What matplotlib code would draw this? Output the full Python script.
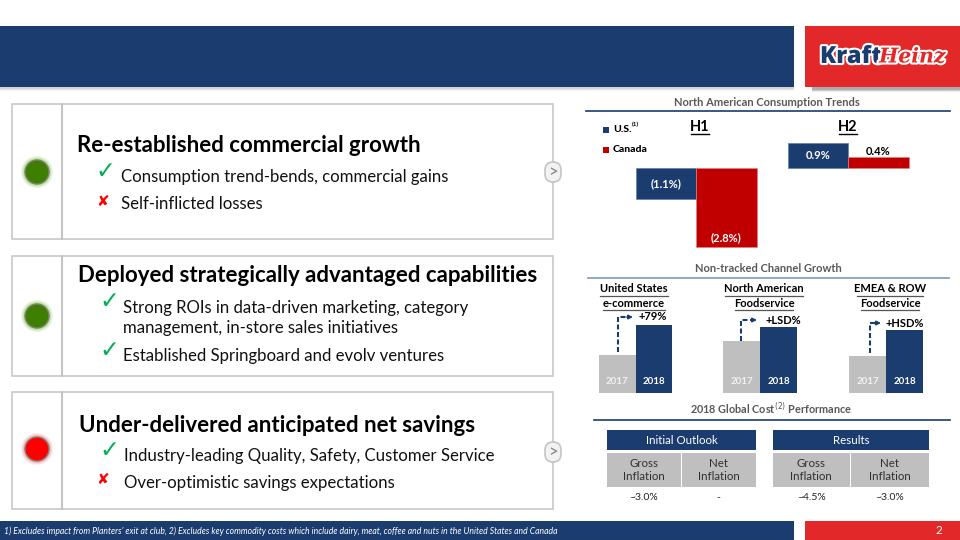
import matplotlib
matplotlib.use("Agg")
import matplotlib.pyplot as plt
import matplotlib.patheffects as pe
from matplotlib.patches import Rectangle, Circle, FancyBboxPatch

NAVY = "#1a3c6e"
RED = "#e22828"
DARKRED = "#c00000"
GREY = "#bfbfbf"
FONT = "Lato"

# ---- data ----
trend_periods = ["H1", "H2"]
us_trend = [-1.1, 0.9]
canada_trend = [-2.8, 0.4]
trend_labels_us = ["(1.1%)", "0.9%"]
trend_labels_ca = ["(2.8%)", "0.4%"]

channel_years = ["2017", "2018"]
channel_names = [["United States", "e-commerce"], ["North American", "Foodservice"], ["EMEA & ROW", "Foodservice"]]
channel_growth = ["+79%", "+LSD%", "+HSD%"]
channel_2017 = [100, 137, 97]
channel_2018 = [178, 174, 166]

table_groups = ["Initial Outlook", "Results"]
table_metrics = ["Gross\nInflation", "Net\nInflation"]
table_values = [["~3.0%", "-"], ["~4.5%", "~3.0%"]]

footnote = ("1) Excludes impact from Planters\u2019 exit at club, 2) Excludes key commodity costs which "
            "include dairy, meat, coffee and nuts in the United States and Canada")

cards = [
    ("Re-established commercial growth", 77, 146, "#3f7f00", "#a6d87f",
     [("y", "Consumption trend-bends, commercial gains", 177), ("n", "Self-inflicted losses", 204)]),
    ("Deployed strategically advantaged capabilities", 78, 276, "#3f7f00", "#a6d87f",
     [("y", "Strong ROIs in data-driven marketing, category\nmanagement, in-store sales initiatives", 318),
      ("y", "Established Springboard and evolv ventures", 356)]),
    ("Under-delivered anticipated net savings", 79, 425, "#ff0000", "#f5a0a0",
     [("y", "Industry-leading Quality, Safety, Customer Service", 456), ("n", "Over-optimistic savings expectations", 483)]),
]
card_boxes = [(104, 239), (256, 376), (392, 509)]
dot_y = [172, 316, 449]
check_x = [105, 109, 109]
cross_x = [102.5, 103, 103]
text_x = [121, 123, 124]

W, H = 960, 540
fig = plt.figure(figsize=(9.6, 5.4), dpi=100, facecolor="white")
plt.rcParams["font.family"] = [FONT, "DejaVu Sans"]


def px_axes(x0, y0, x1, y1, z=2):
    a = fig.add_axes([x0 / W, 1 - y1 / H, (x1 - x0) / W, (y1 - y0) / H], zorder=z)
    a.patch.set_alpha(0)
    a.axis("off")
    return a


ov = px_axes(0, 0, W, H, z=1)
ov.set_xlim(0, W)
ov.set_ylim(H, 0)

# header / footer
for i, a in enumerate([0.04, 0.06, 0.08]):
    ov.add_patch(Rectangle((0, 87), 794, 4 - i, fc="black", alpha=a, lw=0))
    ov.add_patch(Rectangle((812, 87), 148, 5 - i, fc="black", alpha=a * 2, lw=0))
ov.add_patch(Rectangle((0, 26), 794, 61, fc=NAVY, lw=0))
ov.add_patch(Rectangle((805, 26), 155, 61, fc=RED, lw=0))
ov.add_patch(Rectangle((0, 521), 794, 19, fc=NAVY, lw=0))
ov.add_patch(Rectangle((805, 521), 155, 19, fc=RED, lw=0))
ov.text(4, 531, footnote, color="white", fontsize=6.25, style="italic", va="center", ha="left")
ov.text(939, 531, "2", color="white", fontsize=8.5, va="center", ha="center")

# logo
stroke = [pe.withStroke(linewidth=3.0, foreground="white")]
ov.text(820, 56.5, "Kraft", color=NAVY, fontsize=17, fontweight="black", family="Open Sans",
        va="center", ha="left", path_effects=stroke)
ov.text(879, 56.5, "Heinz", color=RED, fontsize=14.7, fontweight="bold", style="italic",
        family="DejaVu Serif", va="center", ha="left", path_effects=stroke)

# cards
for (title, tx, ty, col, glow, items), (y0, y1), dy, cx, xx, lx in zip(cards, card_boxes, dot_y, check_x, cross_x, text_x):
    ov.add_patch(Rectangle((11.5, y0), 541, y1 - y0, fc="white", ec="#c4c4c4", lw=1.1))
    ov.plot([62, 62], [y0, y1], color="#c4c4c4", lw=1.5)
    for r, a in [(16, 0.2), (15, 0.3), (14, 0.4), (13, 0.6)]:
        ov.add_patch(Circle((37, dy), r, fc=glow, alpha=a, lw=0))
    ov.add_patch(Circle((37, dy), 12, fc=col, ec="#7f7f7f", lw=1))
    ov.text(tx, ty, title, fontsize=16.05, fontweight="bold", color="black", va="center", ha="left")
    for kind, txt, y in items:
        first = y - 11 if "\n" in txt else y
        if kind == "y":
            ov.text(cx, first - 6, "\u2713", color="#00b050", fontsize=17, fontweight="bold",
                    family="DejaVu Sans", va="center", ha="center")
        else:
            ov.text(xx, first - 3, "\u2718", color="#ff0000", fontsize=11,
                    family="DejaVu Sans", va="center", ha="center")
        ov.text(lx, y, txt, fontsize=12.05, color="#111111", va="center", ha="left", linespacing=1.25)

# small arrow buttons
for by in [172, 452]:
    ov.add_patch(FancyBboxPatch((545, by - 10), 16, 20, boxstyle="round,pad=0,rounding_size=8",
                                fc="#f2f2f2", ec="#c4c4c4", lw=1.2, zorder=4))
    ov.text(553, by, ">", color="#7f7f7f", fontsize=12, ha="center", va="center", zorder=5)

# section headings
for txt, cx, cy, x0, x1, ly, lc in [
    ("North American Consumption Trends", 767, 102, 586, 950, 111, NAVY),
    ("Non-tracked Channel Growth", 768, 269, 588, 949, 278, "#7f96b8"),
]:
    ov.text(cx, cy, txt, fontsize=8, fontweight="bold", color="#595959", ha="center", va="center")
    ov.plot([x0, x1], [ly, ly], color=lc, lw=1.2)
ov.text(771, 409, "2018 Global Cost$^{(2)}$ Performance", fontsize=7.8, fontweight="bold", color="#595959",
        ha="center", va="center", math_fontfamily="dejavusans")
ov.plot([594, 950], [419.5, 419.5], color=NAVY, lw=1.2)

# trends chart: y-axis scale 28.2 px per percentage point, zero at pixel 168
tr = px_axes(620, 130, 925, 250)
tr.set_xlim(620, 925)
tr.set_ylim((168 - 250) / 28.2, (168 - 130) / 28.2)
centers = [696, 848]
bw = 60.5
b1 = tr.bar([c - bw / 2 for c in centers], us_trend, bw, color=NAVY, edgecolor="#5f7fa8", lw=0.5)
b2 = tr.bar([c + bw / 2 for c in centers], canada_trend, bw, color=DARKRED, edgecolor="#e08080", lw=0.5)
for r, lab in zip(b1, trend_labels_us):
    tr.text(r.get_x() + r.get_width() / 2, r.get_height() / 2, lab, color="white", fontsize=8,
            fontweight="bold", ha="center", va="center")
tr.text(b2[0].get_x() + bw / 2, -2.46, trend_labels_ca[0], color="white", fontsize=8, fontweight="bold",
        ha="center", va="center")
tr.text(b2[1].get_x() + bw / 2, 0.6, trend_labels_ca[1], color="black", fontsize=8, fontweight="bold",
        ha="center", va="center")
for lab, cx in zip(trend_periods, [700, 848]):
    ov.text(cx, 127, lab, fontsize=10.5, fontweight="bold", color="black", ha="center", va="center")
    ov.plot([cx - 9, cx + 9], [133.5, 133.5], color="black", lw=1)
ov.add_patch(Rectangle((603, 126.5), 6, 6, fc=NAVY, lw=0))
ov.add_patch(Rectangle((603, 146.5), 6, 6, fc=DARKRED, lw=0))
ov.text(613, 129.5, "U.S.", fontsize=7.5, fontweight="black", va="center", ha="left")
ov.text(632, 124.5, "(1)", fontsize=4.5, fontweight="bold", va="center", ha="left")
ov.text(613, 150, "Canada", fontsize=7.5, fontweight="black", va="center", ha="left")

# channel charts
chart_x = [(599, 672), (723, 797), (849, 923)]
arrows = [(618, 352, 317, 632), (741, 341, 320, 756), (870, 353, 323, 880)]
growth_xy = [(653, 317), (783, 320), (905, 323.5)]
title_cx = [634, 764, 890]
for i, (x0, x1) in enumerate(chart_x):
    a = px_axes(x0, 313, x1, 393)
    a.set_xlim(-0.5, 1.5)
    a.set_ylim(0, 80 * 100 / 38 / 1.0)   # ~0.38 px per unit
    bars = a.bar([0, 1], [channel_2017[i], channel_2018[i]], 1.0, color=[GREY, NAVY], lw=0)
    for j, y in enumerate(channel_years):
        a.text(j, 31, y, color="white" if j else "#f2f2f2", fontsize=7, fontweight="bold", ha="center", va="center")
    ox, y0, y1, ex = arrows[i]
    ov.plot([ox, ox, ex - 4], [y0, y1, y1], color=NAVY, lw=1.5, ls=(0, (2.4, 1.2)))
    ov.annotate("", xy=(ex + 1, y1), xytext=(ex - 5, y1),
                arrowprops=dict(arrowstyle="-|>", color=NAVY, lw=1.2, mutation_scale=6, shrinkA=0, shrinkB=0))
    gx, gy = growth_xy[i]
    ov.text(gx, gy, channel_growth[i], fontsize=8, fontweight="bold", color="black", ha="center", va="center")
    for k, line in enumerate(channel_names[i]):
        yy = 289 + k * 14.5
        t = ov.text(title_cx[i], yy, line, fontsize=8, fontweight="bold", color="black", ha="center", va="center")
        hw = [[34, 31], [39, 29], [33, 29]][i][k]
        ov.plot([title_cx[i] - hw, title_cx[i] + hw], [yy + 6.5, yy + 6.5], color="#555555", lw=0.9)

# cost table
groups = [(607, 681, 756), (773, 850, 929)]
for g, (x0, xm, x1) in enumerate(groups):
    ov.add_patch(Rectangle((x0, 430), x1 - x0, 20, fc=NAVY, lw=0))
    ov.text((x0 + x1) / 2, 441, table_groups[g], color="white", fontsize=8.3, ha="center", va="center")
    for c, (a0, a1) in enumerate([(x0, xm - 0.5), (xm + 0.5, x1)]):
        ov.add_patch(Rectangle((a0, 452.5), a1 - a0, 34.5, fc=GREY, lw=0))
        ov.text((a0 + a1) / 2, 470, table_metrics[c], color="#303030", fontsize=8.3, ha="center", va="center",
                linespacing=1.2)
        ov.text((a0 + a1) / 2, 498, table_values[g][c], color="#222222", fontsize=7.5, ha="center", va="center")

fig.savefig("out.png", dpi=100, facecolor="white")
